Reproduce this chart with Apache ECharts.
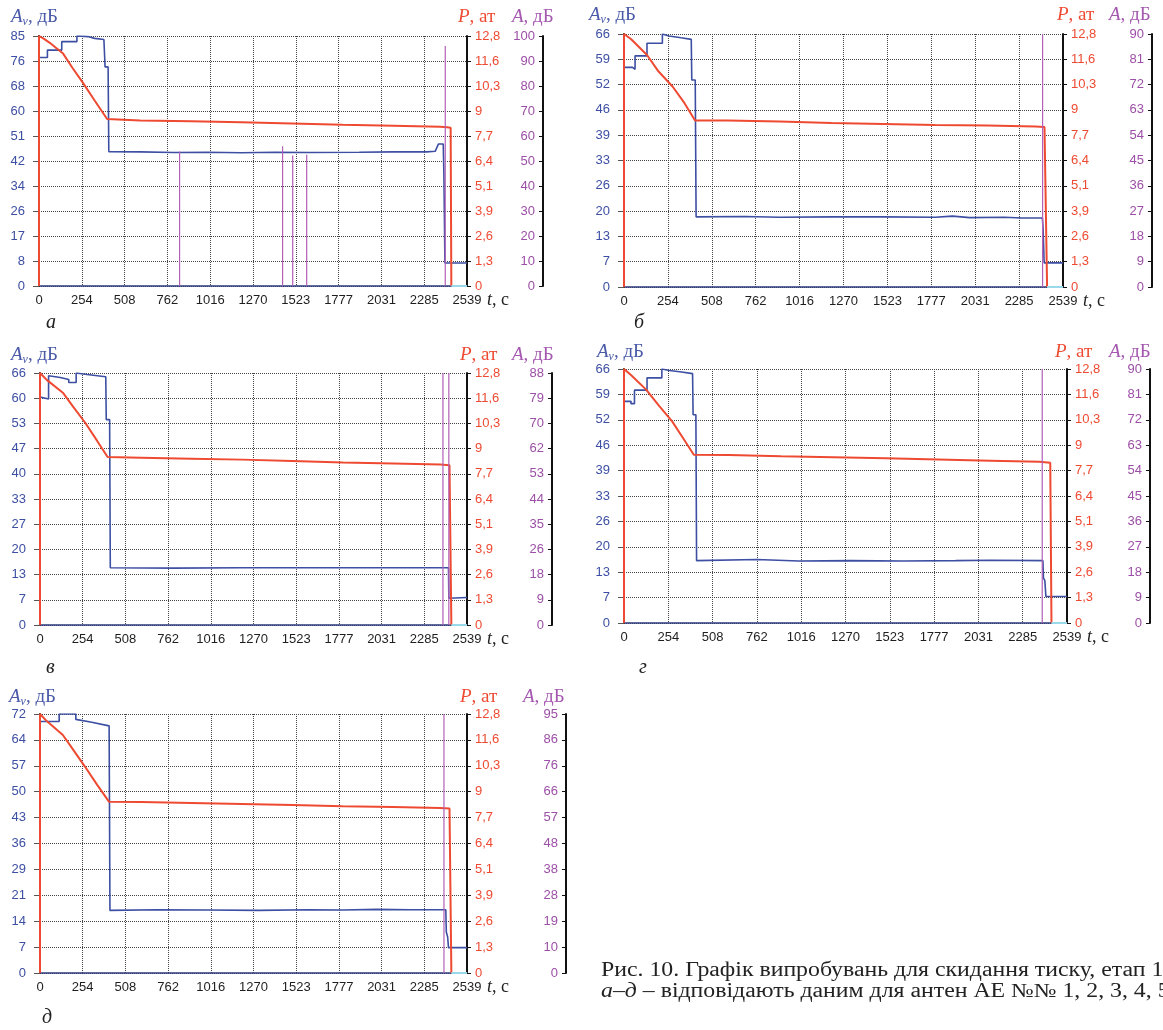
<!DOCTYPE html>
<html>
<head>
<meta charset="UTF-8">
<title>Рис. 10</title>
<script src="https://cdn.jsdelivr.net/npm/echarts@6/dist/echarts.min.js"></script>
<style>html,body{margin:0;background:#fff;}</style>
</head>
<body>
<div id="main" style="width:1163px;height:1030px;"></div>
<script type="text/javascript">
// tick labels
var xTicks = ['0','254','508','762','1016','1270','1523','1777','2031','2285','2539'];
var pTicks = ['0','1,3','2,6','3,9','5,1','6,4','7,7','9','10,3','11,6','12,8'];
var avTicksA = ['0','8','17','26','34','42','51','60','68','76','85'];
var avTicksB = ['0','7','13','20','26','33','39','46','52','59','66'];
var avTicksC = ['0','7','13','20','27','33','40','47','53','60','66'];
var avTicksD = ['0','7','13','20','26','33','39','46','52','59','66'];
var avTicksE = ['0','7','14','21','29','36','43','50','57','64','72'];
var aTicksA = ['0','10','20','30','40','50','60','70','80','90','100'];
var aTicksB = ['0','9','18','27','36','45','54','63','72','81','90'];
var aTicksC = ['0','9','18','26','35','44','53','62','70','79','88'];
var aTicksD = ['0','9','18','27','36','45','54','63','72','81','90'];
var aTicksE = ['0','10','19','28','38','48','57','66','76','86','95'];

// A_v, дБ  [t, value]
var avA = [[0,77.7],[50,77.7],[50,80.2],[135,80.2],[135,83.1],[225,83.1],[225,85],[290,84.8],[330,84.2],[385,83.8],[390,83.6],[392,74.5],[410,74.5],[414,45.7],[600,45.6],[800,45.4],[1000,45.5],[1200,45.3],[1400,45.5],[1600,45.4],[1900,45.5],[2100,45.6],[2300,45.6],[2350,45.8],[2370,48.3],[2398,48.3],[2402,38],[2408,7.8],[2539,7.8]];
var avB = [[0,57.3],[50,57.3],[50,56.8],[64,56.8],[64,60.3],[133,60.3],[133,63.6],[222,63.6],[222,66],[260,65.5],[330,65],[389,64.6],[392,54],[412,54],[417,18.3],[700,18.4],[900,18.2],[1200,18.3],[1500,18.3],[1800,18.2],[1900,18.5],[2000,18.1],[2200,18.2],[2300,18],[2420,18],[2424,15],[2430,6.3],[2539,6.3]];
var avC = [[0,59.7],[51,59.2],[51,65.3],[120,64.8],[171,64.3],[171,63.5],[215,63.5],[215,66],[280,65.6],[391,65],[394,53.8],[414,53.8],[418,15],[800,14.9],[1200,15],[1600,15],[2000,15],[2429,15],[2431,7],[2539,7.2]];
var avD = [[0,57.6],[40,57.6],[40,57],[60,57],[60,60.5],[132,60.5],[132,63.7],[217,63.7],[217,66],[260,65.6],[330,65.2],[393,64.8],[396,54.1],[412,54.1],[416,16.2],[762,16.5],[1000,16.1],[1300,16.2],[1600,16.1],[1900,16.2],[2100,16.3],[2401,16.2],[2404,11.7],[2412,11],[2418,6.9],[2539,6.9]];
var avE = [[0,69.9],[114,69.9],[114,72],[213,72],[213,70.5],[300,69.8],[411,68.7],[416,17.4],[700,17.6],[1000,17.5],[1300,17.4],[1600,17.6],[1800,17.5],[2000,17.7],[2200,17.6],[2413,17.6],[2416,11.4],[2424,10],[2429,7.05],[2539,7.05]];

// P, ат
var pA = [[0,0],[0,12.8],[30,12.65],[64,12.45],[100,12.2],[143,11.9],[200,11.15],[261,10.4],[330,9.5],[404,8.55],[414,8.5],[600,8.47],[900,8.43],[1200,8.38],[1500,8.32],[1800,8.25],[2100,8.2],[2380,8.15],[2420,8.13],[2442,8.1],[2446,0]];
var pB = [[0,0],[0,12.8],[40,12.55],[133,11.74],[200,10.9],[282,10.13],[350,9.3],[411,8.42],[600,8.42],[900,8.37],[1200,8.3],[1500,8.25],[1800,8.2],[2100,8.17],[2380,8.12],[2432,8.1],[2447,0]];
var pC = [[0,0],[0,12.8],[40,12.45],[138,11.78],[200,11.05],[270,10.26],[340,9.35],[402,8.53],[600,8.5],[900,8.45],[1200,8.4],[1500,8.33],[1800,8.26],[2100,8.2],[2380,8.15],[2435,8.12],[2446,0]];
var pD = [[0,0],[0,12.8],[40,12.5],[127,11.76],[200,10.95],[276,10.16],[340,9.3],[400,8.48],[600,8.46],[900,8.4],[1200,8.35],[1500,8.3],[1800,8.24],[2100,8.18],[2380,8.12],[2443,8.08],[2450,0]];
var pE = [[0,0],[0,12.8],[40,12.45],[136,11.76],[200,11.0],[268,10.19],[340,9.3],[411,8.46],[600,8.45],[900,8.4],[1200,8.35],[1500,8.3],[1800,8.24],[2100,8.2],[2380,8.15],[2435,8.13],[2446,0]];

// A, дБ spikes [t, peak]
var spikesA = [[834,53.8],[1445,55.9],[1505,52.2],[1588,52.5],[2410,96]];
var spikesB = [[2421,90]];
var spikesC = [[2396,88],[2431,88]];
var spikesD = [[2397,90]];
var spikesE = [[2402,95]];
var cyanStart = [2446,2447,2446,2450,2446];

var panels = [
  {av: avA, p: pA, sp: spikesA, avMax: 85, avTicks: avTicksA, aMax: 100, aTicks: aTicksA},
  {av: avB, p: pB, sp: spikesB, avMax: 66, avTicks: avTicksB, aMax: 90, aTicks: aTicksB},
  {av: avC, p: pC, sp: spikesC, avMax: 66, avTicks: avTicksC, aMax: 88, aTicks: aTicksC},
  {av: avD, p: pD, sp: spikesD, avMax: 66, avTicks: avTicksD, aMax: 90, aTicks: aTicksD},
  {av: avE, p: pE, sp: spikesE, avMax: 72, avTicks: avTicksE, aMax: 95, aTicks: aTicksE}
];
var letters = ['а','б','в','г','д'];

// layout
var boxes = [
  {left: 39, top: 36, width: 428, height: 250, aOff: 76, tY: 17, avX: 11, pX: 458, aX: 512, lx: 46, ly: 323},
  {left: 624, top: 34, width: 439, height: 253, aOff: 89, tY: 15, avX: 589, pX: 1057, aX: 1109, lx: 634, ly: 323},
  {left: 40, top: 373, width: 427, height: 252, aOff: 85, tY: 355, avX: 11, pX: 460, aX: 512, lx: 46, ly: 668},
  {left: 624, top: 369, width: 443, height: 254, aOff: 83, tY: 352, avX: 597, pX: 1055, aX: 1109, lx: 639, ly: 668},
  {left: 40, top: 714, width: 427, height: 259, aOff: 99, tY: 697, avX: 9, pX: 460, aX: 523, lx: 42, ly: 1018}
];

var BLUE = '#3d4fa3', RED = '#ee4a32', PURPLE = '#b35fb8', CYAN = '#9ad9ea';
var SANS = 'Liberation Sans', SERIF = 'Liberation Serif';

function pick(labels, step) {
  return function (v) { return labels[Math.round(v / step)]; };
}

var option = {
  animation: false,
  backgroundColor: '#fff',
  grid: [], xAxis: [], yAxis: [], series: [], graphic: []
};

panels.forEach(function (pn, i) {
  var b = boxes[i];
  option.grid.push({left: b.left, top: b.top, width: b.width, height: b.height});
  option.xAxis.push({
    type: 'value', gridIndex: i, min: 0, max: 2539, interval: 253.9,
    name: '{i|t}{n|, с}', nameLocation: 'end', nameGap: 20,
    nameTextStyle: {align: 'left', verticalAlign: 'top', padding: [5, 0, 0, 0],
      rich: {i: {fontFamily: SERIF, fontStyle: 'italic', fontSize: 18, color: '#222'},
             n: {fontFamily: SERIF, fontSize: 18, color: '#222'}}},
    axisLine: {lineStyle: {color: '#2e3a7e', width: 1.5}},
    axisTick: {show: false},
    axisLabel: {formatter: pick(xTicks, 253.9), color: '#1e1e1e', fontFamily: SANS, fontSize: 13, margin: 8},
    splitLine: {show: true, lineStyle: {color: '#444', type: 'dotted', width: 1}}
  });
  var y0 = option.yAxis.length;
  option.yAxis.push({
    type: 'value', gridIndex: i, position: 'left', min: 0, max: pn.avMax, interval: pn.avMax / 10,
    axisLine: {show: true, lineStyle: {color: '#111', width: 2}},
    axisTick: {show: true, length: 6, lineStyle: {color: '#555'}},
    axisLabel: {formatter: pick(pn.avTicks, pn.avMax / 10), color: BLUE, fontFamily: SANS, fontSize: 13, margin: 14},
    splitLine: {show: true, lineStyle: {color: '#444', type: 'dotted', width: 1}}
  });
  option.yAxis.push({
    type: 'value', gridIndex: i, position: 'right', min: 0, max: 12.8, interval: 1.28,
    axisLine: {show: true, lineStyle: {color: '#111', width: 2}},
    axisTick: {show: true, length: 4, lineStyle: {color: '#111'}},
    axisLabel: {formatter: pick(pTicks, 1.28), color: RED, fontFamily: SANS, fontSize: 13, margin: 8},
    splitLine: {show: false}
  });
  option.yAxis.push({
    type: 'value', gridIndex: i, position: 'right', offset: b.aOff, min: 0, max: pn.aMax, interval: pn.aMax / 10,
    axisLine: {show: true, lineStyle: {color: '#111', width: 2}},
    axisTick: {show: true, inside: true, length: 4, lineStyle: {color: '#111'}},
    axisLabel: {inside: true, formatter: pick(pn.aTicks, pn.aMax / 10), color: '#9c4fa6', fontFamily: SANS, fontSize: 13, margin: 8},
    splitLine: {show: false}
  });
  var spikeData = [];
  pn.sp.forEach(function (s) { spikeData.push([s[0], 0], [s[0], s[1]], [s[0], '-']); });
  option.series.push(
    {type: 'line', xAxisIndex: i, yAxisIndex: y0, data: pn.av, showSymbol: false, z: 3,
     lineStyle: {color: BLUE, width: 1.6}},
    {type: 'line', xAxisIndex: i, yAxisIndex: y0 + 1, data: pn.p, showSymbol: false, z: 4,
     lineStyle: {color: RED, width: 2}},
    {type: 'line', xAxisIndex: i, yAxisIndex: y0 + 2, data: spikeData, showSymbol: false, z: 5,
     connectNulls: false, lineStyle: {color: PURPLE, width: 1.2}},
    {type: 'line', xAxisIndex: i, yAxisIndex: y0 + 2, data: [[cyanStart[i], 0], [2539, 0]], showSymbol: false, z: 5,
     lineStyle: {color: CYAN, width: 2}}
  );
  option.graphic.push(
    {type: 'text', x: b.avX, y: b.tY, style: {text: '{i|A}{s|v}{n|, дБ}', verticalAlign: 'middle', fill: BLUE,
      rich: {i: {fontFamily: SERIF, fontStyle: 'italic', fontSize: 19, fill: '#4a5aa8'},
             s: {fontFamily: SERIF, fontStyle: 'italic', fontSize: 12, fill: '#4a5aa8', padding: [9, 0, 0, 0]},
             n: {fontFamily: SERIF, fontSize: 19, fill: '#4a5aa8'}}}},
    {type: 'text', x: b.pX, y: b.tY, style: {text: '{i|P}{n|, ат}', verticalAlign: 'middle',
      rich: {i: {fontFamily: SERIF, fontStyle: 'italic', fontSize: 19, fill: RED},
             n: {fontFamily: SERIF, fontSize: 19, fill: RED}}}},
    {type: 'text', x: b.aX, y: b.tY, style: {text: '{i|A}{n|, дБ}', verticalAlign: 'middle',
      rich: {i: {fontFamily: SERIF, fontStyle: 'italic', fontSize: 19, fill: '#a558b0'},
             n: {fontFamily: SERIF, fontSize: 19, fill: '#a558b0'}}}},
    {type: 'text', x: b.lx, y: b.ly, style: {text: letters[i], verticalAlign: 'middle',
      font: 'italic 20px "Liberation Serif"', fill: '#222'}}
  );
});

// caption (wider serif, runs off the right edge as in the source)
option.graphic.push(
  {type: 'text', x: 601, y: 971, scaleX: 1.19, style: {text: 'Рис. 10. Графік випробувань для скидання тиску, етап 1',
    verticalAlign: 'middle', font: '20px "Liberation Serif"', fill: '#222'}},
  {type: 'text', x: 601, y: 992, scaleX: 1.19, style: {text: '{i|а–д}{n| – відповідають даним для антен АЕ №№ 1, 2, 3, 4, 5}',
    verticalAlign: 'middle',
    rich: {i: {fontFamily: SERIF, fontStyle: 'italic', fontSize: 20, fill: '#222'},
           n: {fontFamily: SERIF, fontSize: 20, fill: '#222'}}}}
);

var myChart = echarts.init(document.getElementById('main'));
myChart.setOption(option);
</script>
</body>
</html>
